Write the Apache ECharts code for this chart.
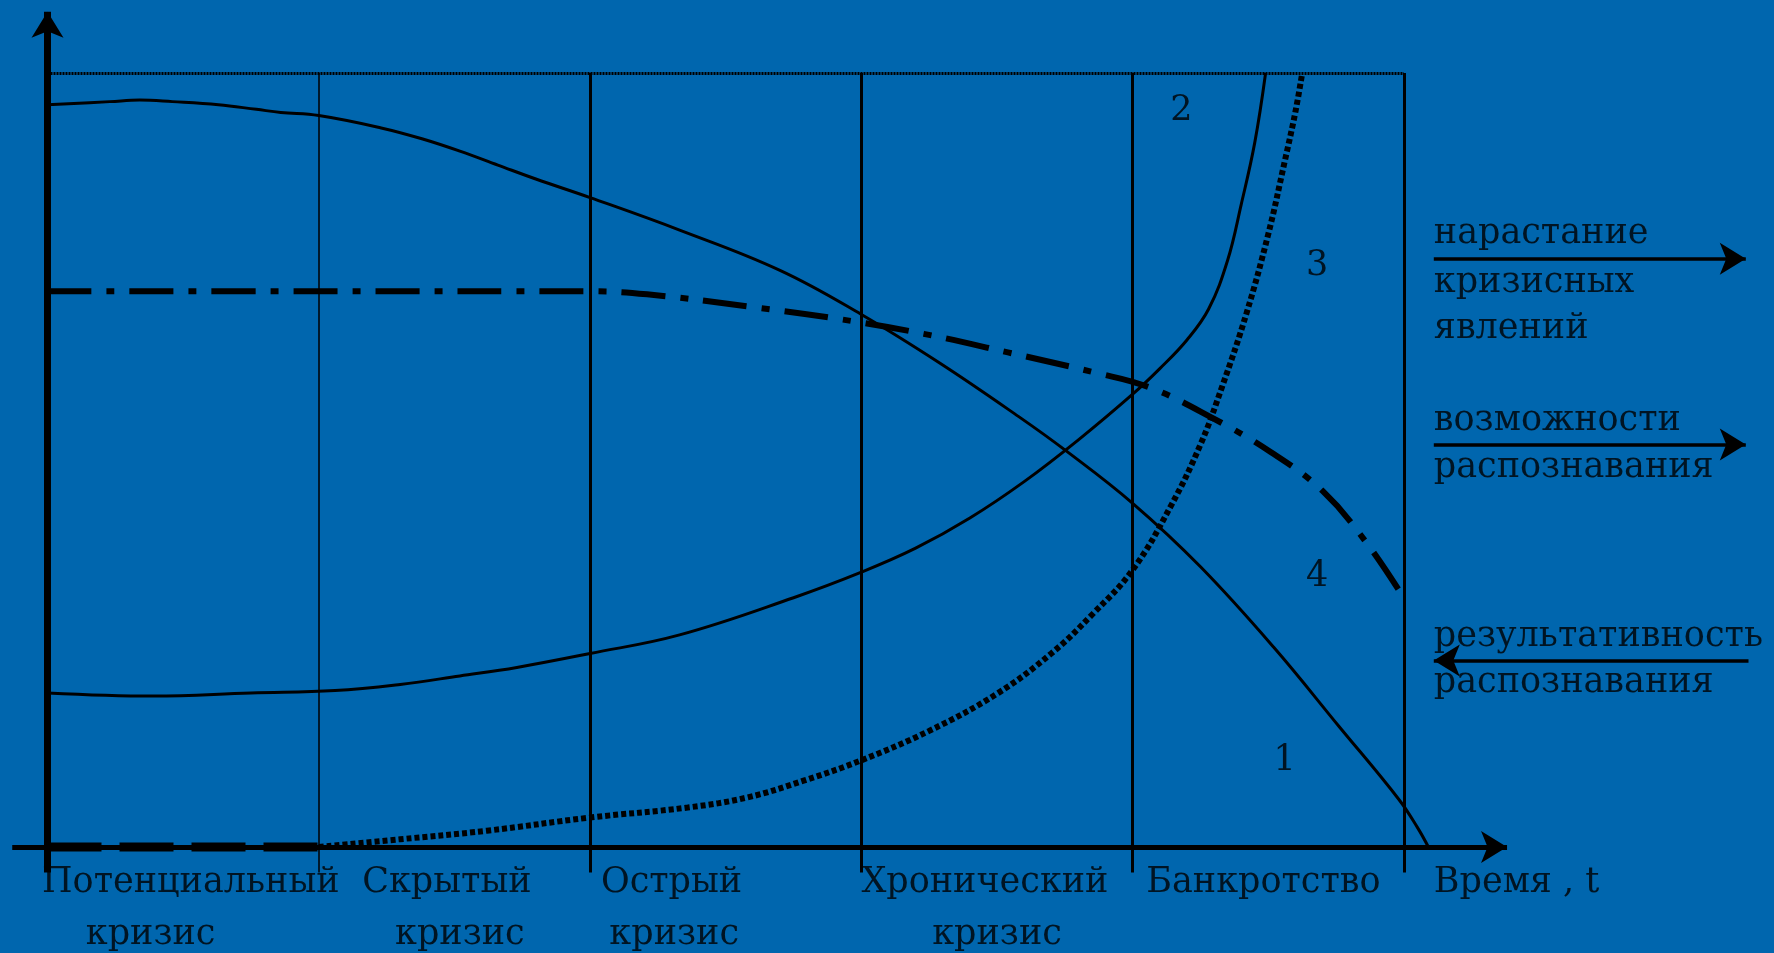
<!DOCTYPE html>
<html>
<head>
<meta charset="utf-8">
<title>Стадии кризиса</title>
<script src="https://cdn.jsdelivr.net/npm/echarts@6/dist/echarts.min.js"></script>
<style>
  html, body { margin: 0; padding: 0; background: #0066ae; }
  #chart { width: 1774px; height: 953px; }
</style>
</head>
<body>
<div id="chart"></div>
<script>
// x: stage boundaries are 0..5, y: 0 = time axis, 100 = top frame line
const phaseBounds = [1, 2, 3, 4, 5];

const curve1 = [
  [0, 95.9], [0.23, 96.3], [0.34, 96.5], [0.46, 96.3], [0.63, 95.9], [0.77, 95.3],
  [0.86, 94.9], [1.0, 94.5], [1.23, 92.9], [1.38, 91.5], [1.52, 89.9], [1.66, 88.1],
  [1.8, 86.3], [2.0, 83.9], [2.33, 79.7], [2.7, 74.5], [3.0, 68.8], [3.29, 62.5],
  [3.58, 55.6], [3.75, 51.3], [4.0, 44.4], [4.25, 36.2], [4.52, 25.8], [4.76, 15.6],
  [4.98, 6.2], [5.05, 2.5], [5.09, 0]
];
const curve2 = [
  [0, 19.9], [0.39, 19.5], [0.75, 19.9], [1.06, 20.2], [1.3, 21.0], [1.52, 22.1],
  [1.73, 23.2], [2.0, 25.0], [2.33, 27.4], [2.75, 32.2], [3.0, 35.5], [3.2, 38.6],
  [3.4, 42.5], [3.6, 47.2], [3.8, 52.6], [4.0, 58.5], [4.1, 61.8], [4.2, 65.5],
  [4.28, 69.5], [4.35, 75.8], [4.4, 83.0], [4.45, 91.0], [4.49, 100]
];
const curve3Axis = [[0, 0], [1.0, 0]];
const curve3 = [
  [1.0, 0], [1.3, 1.0], [1.62, 2.1], [2.0, 3.8], [2.36, 5.1], [2.58, 6.4],
  [2.79, 8.6], [3.0, 11.2], [3.25, 15.0], [3.5, 19.8], [3.7, 25.0], [3.85, 30.0],
  [4.0, 35.8], [4.14, 44.0], [4.25, 52.0], [4.33, 59.5], [4.42, 69.0], [4.5, 79.2],
  [4.56, 88.5], [4.6, 95.0], [4.625, 100]
];
const curve4 = [
  [0, 71.8], [1.0, 71.8], [2.0, 71.8], [2.21, 71.4], [2.59, 69.8], [2.92, 68.2],
  [3.23, 66.3], [3.54, 63.9], [3.86, 61.3], [4.06, 59.4], [4.29, 55.5], [4.51, 51.0],
  [4.7, 46.0], [4.86, 39.4], [4.99, 32.7]
];

const curveNames = ['1', '2', '3', '4'];
const curveNamePos = [[4.56, 11.1], [4.18, 95.1], [4.68, 75.1], [4.68, 34.9]];

const stageNames = ['Потенциальный', 'Скрытый', 'Острый', 'Хронический', 'Банкротство', 'Время , t'];
const stageNameX = [-0.02, 1.16, 2.04, 3.0, 4.05, 5.11];
const stageWord = 'кризис';
const stageWordX = [0.38, 1.52, 2.31, 3.5];

const sideTexts = ['нарастание', 'кризисных', 'явлений', 'возможности', 'распознавания', 'результативность', 'распознавания'];
const sideTextY = [79.2, 72.9, 66.9, 55.0, 49.0, 27.1, 21.2];
const sideArrows = [
  [[5.11, 76.0], [6.26, 76.0]],
  [[5.11, 52.0], [6.26, 52.0]],
  [[6.27, 24.1], [5.11, 24.1]]
];

const font = 'DejaVu Serif';
const ink = '#000';

function seg(a, b, style) {
  return [{ coord: a, lineStyle: style }, { coord: b }];
}

const textData = [];
stageNames.forEach((n, i) => textData.push({ value: [stageNameX[i], -4.7], name: n }));
sideTexts.forEach((n, i) => textData.push({ value: [5.11, sideTextY[i]], name: n }));
const centerText = [];
stageWordX.forEach((x) => centerText.push({ value: [x, -11.3], name: stageWord }));
curveNames.forEach((n, i) => centerText.push({ value: curveNamePos[i], name: n }));

const frameLines = [
  seg([0, 100], [5, 100], { type: [2, 1], width: 3 })
];
phaseBounds.forEach((x, i) => {
  frameLines.push(seg([x, 100], [x, -3.3], { type: 'solid', width: i === 0 ? 1.5 : 3 }));
});

const arrowLines = [
  seg([0, -3.3], [0, 107.9], { width: 7 }),
  seg([-0.13, 0], [5.38, 0], { width: 5 })
];
sideArrows.forEach((a) => arrowLines.push(seg(a[0], a[1], { width: 3.5 })));

const lineBase = { type: 'line', symbol: 'none', silent: true, smooth: 0.4, z: 3 };

const option = {
  animation: false,
  backgroundColor: '#0066ae',
  grid: { left: 0, right: 0, top: 0, bottom: 0, containLabel: false },
  xAxis: { type: 'value', min: -0.1751, max: 6.364, show: false },
  yAxis: { type: 'value', min: -13.7, max: 109.43, show: false },
  series: [
    {
      type: 'line', data: [], silent: true, z: 2,
      markLine: {
        silent: true, symbol: ['none', 'none'], label: { show: false },
        lineStyle: { color: ink }, emphasis: { disabled: true },
        data: frameLines
      }
    },
    {
      type: 'line', data: [], silent: true, z: 4,
      markLine: {
        silent: true, symbol: ['none', 'arrow'], symbolSize: [24, 26],
        label: { show: false }, lineStyle: { color: ink, type: 'solid' },
        itemStyle: { color: ink }, emphasis: { disabled: true },
        data: arrowLines
      }
    },
    Object.assign({}, lineBase, { name: '1', data: curve1, lineStyle: { color: ink, width: 3 } }),
    Object.assign({}, lineBase, { name: '2', data: curve2, lineStyle: { color: ink, width: 3 } }),
    Object.assign({}, lineBase, { name: '3a', data: curve3Axis, smooth: false, z: 5,
      lineStyle: { color: ink, width: 9, type: [54, 18], cap: 'butt' } }),
    Object.assign({}, lineBase, { name: '3', data: curve3,
      lineStyle: { color: ink, width: 6, type: [5, 3], cap: 'butt' } }),
    Object.assign({}, lineBase, { name: '4', data: curve4,
      lineStyle: { color: ink, width: 6, type: [44, 15, 8, 15], cap: 'butt' } }),
    {
      type: 'scatter', data: textData, symbolSize: 0, silent: true, z: 6,
      label: {
        show: true, formatter: '{b}', position: 'right', distance: 0,
        color: ink, fontFamily: font, fontSize: 35
      }
    },
    {
      type: 'scatter', data: centerText, symbolSize: 0, silent: true, z: 6,
      label: {
        show: true, formatter: '{b}', position: 'inside',
        color: ink, fontFamily: font, fontSize: 35
      }
    }
  ]
};

const chart = echarts.init(document.getElementById('chart'), null, { renderer: 'canvas' });
chart.setOption(option);
window.addEventListener('resize', () => chart.resize());
</script>
</body>
</html>
